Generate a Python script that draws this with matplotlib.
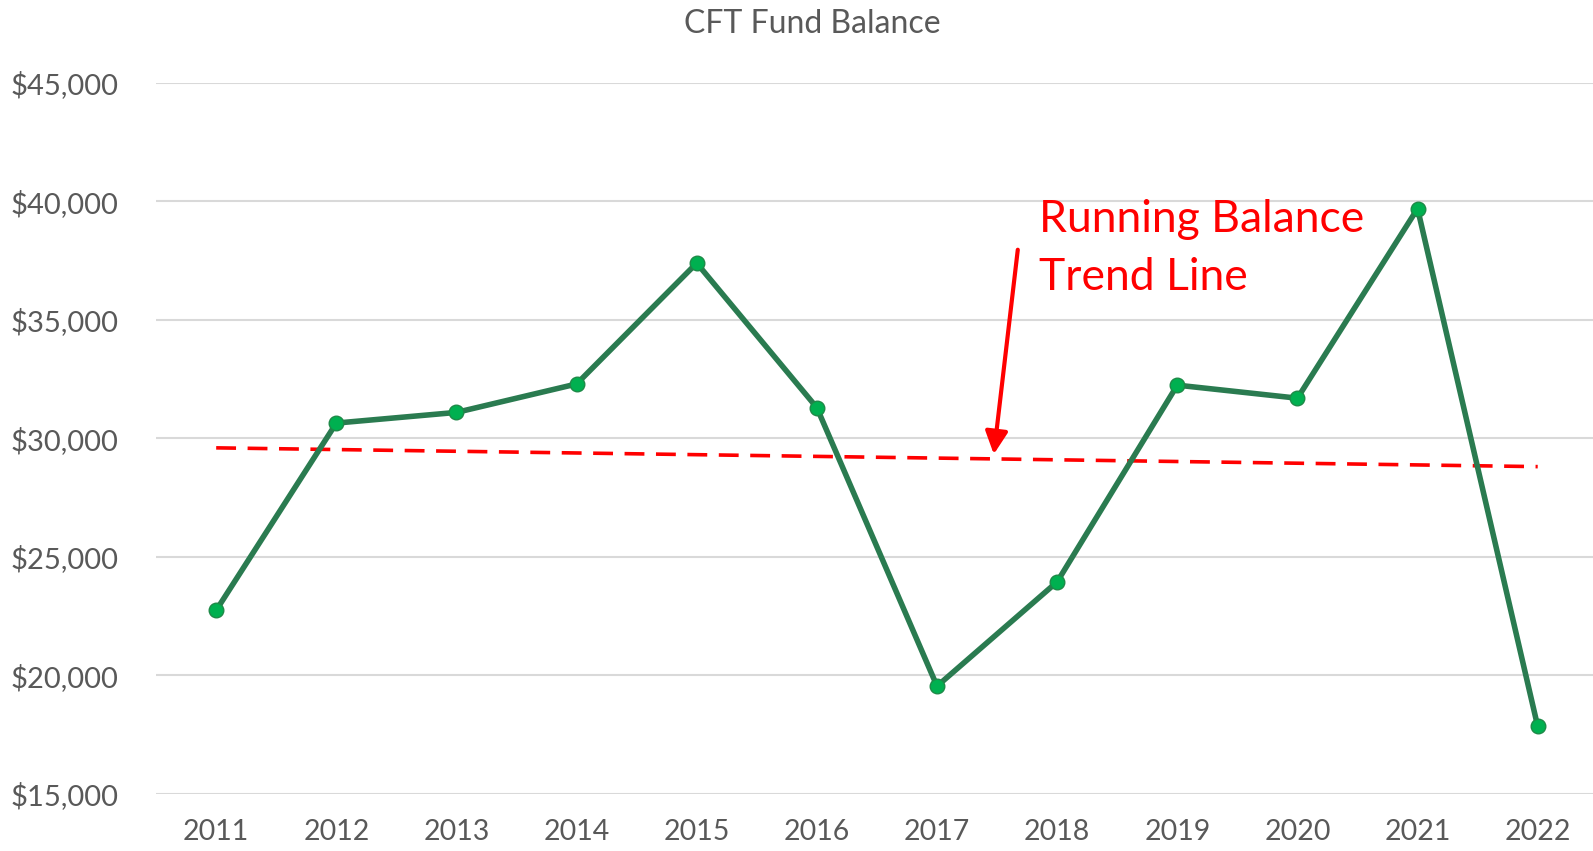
import numpy as np
import matplotlib
matplotlib.use('Agg')
import matplotlib.pyplot as plt
from matplotlib.ticker import FuncFormatter

years = ['2011', '2012', '2013', '2014', '2015', '2016', '2017', '2018', '2019', '2020', '2021', '2022']
balance = [22750, 30650, 31100, 32300, 37400, 31300, 19550, 23950, 32250, 31700, 39700, 17850]

plt.rcParams['font.family'] = ['Lato', 'DejaVu Sans']

fig = plt.figure(figsize=(15.93, 8.51), dpi=100)
ax = fig.add_axes([0.098, 0.067, 0.905, 0.8355])

x = np.arange(len(years))

# ligne de tendance (régression linéaire)
coef = np.polyfit(x, balance, 1)
trend = np.polyval(coef, x)
ax.plot(x, trend, color='#FF0000', lw=2.6, linestyle=(0, (5.5, 3.2)), zorder=2)

ax.plot(x, balance, color='#2A7B50', lw=4, marker='o', markersize=10.5,
        markerfacecolor='#00B050', markeredgecolor='#1E8A48', markeredgewidth=1, zorder=3)

ax.set_xlim(-0.5, 11.5)
ax.set_ylim(15000, 45000)
ax.set_yticks(range(15000, 45001, 5000))
ax.yaxis.set_major_formatter(FuncFormatter(lambda v, p: '${:,.0f}'.format(v)))
ax.set_xticks(x)
ax.set_xticklabels(years)
ax.tick_params(length=0, labelsize=20.5, colors='#595959')
ax.tick_params(axis='y', labelsize=21, pad=27)
ax.tick_params(axis='x', pad=18)
ax.grid(axis='y', color='#D9D9D9', lw=1.5)
ax.set_axisbelow(True)
for s in ax.spines.values():
    s.set_visible(False)

fig.text(0.51, 0.972, 'CFT Fund Balance', ha='center', va='center', fontsize=23, color='#595959')

ax.annotate('', xy=(6.47, 29220), xytext=(6.675, 38080),
            arrowprops=dict(arrowstyle='-|>', color='#FF0000', lw=3, mutation_scale=34))
ax.text(6.85, 40100, 'Running Balance\nTrend Line', color='#FF0000', fontsize=32,
        va='top', ha='left', linespacing=1.5)

fig.savefig('out.png', dpi=100)
